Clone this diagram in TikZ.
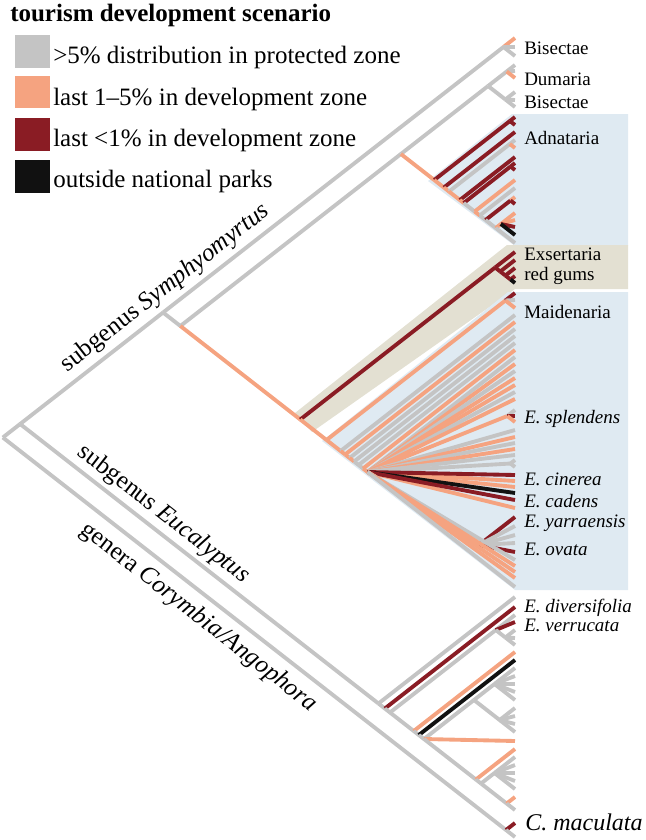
\documentclass[tikz,border=0pt]{standalone}
\usepackage{fontspec}
\setmainfont{Liberation Serif}
\definecolor{cg}{HTML}{C4C4C4}
\definecolor{co}{HTML}{F5A380}
\definecolor{cr}{HTML}{8A1C24}
\definecolor{ck}{HTML}{111111}
\definecolor{bgblue}{HTML}{DFEAF2}
\definecolor{bgbeige}{HTML}{E3E0D2}
\newcommand\mkclade[3]{\coordinate (#1) at ({515-((#3)-(#2))/1.56},{((#2)+(#3))/2});}
\newcommand\edg[3]{\draw[#1] (#2) -- (#3);}
\begin{document}
\begin{tikzpicture}[x=0.75pt,y=-0.75pt,
  eg/.style={draw=cg,line width=2.9pt},
  eo/.style={draw=co,line width=2.9pt},
  er/.style={draw=cr,line width=2.9pt},
  ek/.style={draw=ck,line width=2.9pt},
  tiplab/.style={anchor=base west,inner sep=0pt,font=\fontsize{14.25}{17}\selectfont},
  leglab/.style={anchor=base west,inner sep=0pt,font=\fontsize{18.75}{22}\selectfont},
  cladelab/.style={anchor=base,inner sep=0pt,font=\fontsize{18.75}{22}\selectfont}]
\useasboundingbox (0,0) rectangle (646,840);
% backgrounds
\fill[bgblue] (428,181) -- (512,114) -- (628,114) -- (628,246) -- (515,246) -- cycle;
\fill[bgbeige] (295,413) -- (507,245) -- (628,245) -- (628,289) -- (515,289) -- (312,432) -- cycle;
\fill[bgblue] (322,441) -- (508,292) -- (628,292) -- (628,590) -- (515,590) -- cycle;
% tips
\foreach \y in {38,47,56,65,71,78,92,100,107,117,125,132,140,148,157,163,170,180,188,197,204,213,220,227,235,243,252,260,268,276,283,293,300,308,315,322,329,336,343,350,357,364,371,378,385,392,399,410,416,422,430,437,443,449,455,460,467,475,481,487,493,500,508,517,526,535,543,552,560,566,572,578,587,597,607,615,622,630,638,645,652,660,668,676,684,692,700,708,716,724,732,741,749,757,765,773,781,789,797,810,823,837}
  {\coordinate (t\y) at (515,\y);}
% clades
\mkclade{R}{38}{837}
\mkclade{Eu}{38}{810}
\mkclade{C}{823}{837}
\mkclade{S}{38}{587}
\mkclade{B1}{38}{56}
\mkclade{S2}{65}{587}
\mkclade{D}{65}{243}
\mkclade{DB}{65}{107}
\mkclade{Du}{65}{78}
\mkclade{B2}{92}{107}
\mkclade{A0}{117}{243}
\mkclade{c1}{117}{125}
\mkclade{A1}{132}{243}
\mkclade{A2}{140}{243}
\mkclade{c2}{140}{148}
\mkclade{A3}{157}{243}
\mkclade{A4}{163}{243}
\mkclade{c3}{163}{170}
\mkclade{A5}{180}{243}
\mkclade{A6}{188}{243}
\mkclade{A7}{197}{243}
\mkclade{c4}{197}{204}
\mkclade{A8}{213}{243}
\mkclade{c5}{213}{235}
\mkclade{EM}{252}{587}
\mkclade{X}{252}{283}
\mkclade{X1}{260}{283}
\mkclade{X2}{268}{283}
\mkclade{X3}{276}{283}
\mkclade{M}{293}{587}
\mkclade{m0}{293}{308}
\mkclade{M1}{315}{587}
\mkclade{M2}{322}{587}
\mkclade{M3}{329}{587}
\mkclade{M4}{336}{587}
\mkclade{M5}{343}{587}
\mkclade{M6}{350}{587}
\mkclade{F}{357}{587}
\mkclade{SP}{410}{422}
\mkclade{G}{460}{467}
\coordinate (Y) at (479,545);
\mkclade{E0}{597}{810}
\mkclade{E1}{607}{810}
\mkclade{E2}{615}{810}
\mkclade{V}{615}{645}
\mkclade{V2}{630}{645}
\mkclade{E3}{652}{810}
\mkclade{E4}{660}{810}
\mkclade{E5}{668}{810}
\mkclade{G1}{668}{732}
\mkclade{G1a}{668}{700}
\mkclade{G1b}{708}{732}
\mkclade{L}{749}{810}
\mkclade{L2}{757}{810}
\mkclade{G2}{757}{789}
\mkclade{L3}{797}{810}
% backbone
\edg{eg}{R}{Eu}\edg{eg}{R}{C}\edg{er}{C}{t823}\edg{eg}{C}{t837}
\edg{eg}{Eu}{S}\edg{eg}{Eu}{E0}
\edg{eg}{S}{B1}\edg{eo}{B1}{t38}\edg{eg}{B1}{t47}\edg{eg}{B1}{t56}
\edg{eg}{S}{S2}\edg{eg}{S2}{D}\edg{eo}{S2}{EM}
\edg{eg}{D}{DB}\edg{eg}{DB}{Du}\edg{eg}{Du}{t65}\edg{eg}{Du}{t71}\edg{eo}{Du}{t78}
\edg{eg}{DB}{B2}\edg{eg}{B2}{t92}\edg{eg}{B2}{t100}\edg{eg}{B2}{t107}
% Adnataria
\edg{eo}{D}{A0}
\edg{er}{A0}{c1}\edg{er}{c1}{t117}\edg{er}{c1}{t125}
\edg{eo}{A0}{A1}\edg{er}{A1}{t132}
\edg{eo}{A1}{A2}\edg{eg}{A2}{c2}\edg{eg}{c2}{t140}\edg{eo}{c2}{t148}
\edg{eo}{A2}{A3}\edg{er}{A3}{t157}
\edg{eo}{A3}{A4}\edg{er}{A4}{c3}\edg{er}{c3}{t163}\edg{er}{c3}{t170}
\edg{eg}{A4}{A5}\edg{eo}{A5}{t180}
\edg{eo}{A5}{A6}\edg{eg}{A6}{t188}
\edg{eg}{A6}{A7}\edg{er}{A7}{c4}\edg{eo}{c4}{t197}\edg{er}{c4}{t204}
\edg{eg}{A7}{A8}\edg{eo}{A8}{c5}\edg{eo}{c5}{t213}\edg{eo}{c5}{t220}\edg{er}{c5}{t227}\edg{ek}{c5}{t235}
\edg{eg}{A8}{t243}
% Exsertaria
\edg{er}{EM}{X}\edg{er}{X}{t252}\edg{er}{X}{X1}\edg{er}{X1}{t260}\edg{er}{X1}{X2}\edg{er}{X2}{t268}\edg{er}{X2}{X3}\edg{er}{X3}{t276}\edg{ek}{X3}{t283}
% Maidenaria
\edg{eo}{EM}{M}
\edg{eo}{M}{m0}\edg{er}{m0}{t293}\edg{eg}{m0}{t300}\edg{eo}{m0}{t308}
\edg{eo}{M}{M1}\edg{eg}{M1}{t315}
\edg{eo}{M1}{M2}\edg{eo}{M2}{t322}
\edg{eo}{M2}{M3}\edg{eg}{M3}{t329}
\edg{eo}{M3}{M4}\edg{eg}{M4}{t336}
\edg{eg}{M4}{M5}\edg{eg}{M5}{t343}
\edg{eg}{M5}{M6}\edg{eo}{M6}{t350}
\edg{eo}{M6}{F}
\edg{eg}{F}{t357}\edg{eo}{F}{t364}\edg{eg}{F}{t371}\edg{eo}{F}{t378}\edg{eo}{F}{t385}\edg{eg}{F}{t392}\edg{eo}{F}{t399}
\edg{eo}{F}{SP}\edg{eg}{SP}{t410}\edg{er}{SP}{t416}\edg{eo}{SP}{t422}
\edg{eg}{F}{t430}\edg{eo}{F}{t437}\edg{eg}{F}{t443}\edg{eo}{F}{t449}\edg{eg}{F}{t455}
\edg{eg}{F}{G}\edg{eg}{G}{t460}\edg{eg}{G}{t467}
\edg{eo}{F}{t481}\edg{eo}{F}{t487}\edg{eo}{F}{t508}
\edg{er}{F}{t475}\edg{ek}{F}{t493}\edg{er}{F}{t500}
\edg{eo}{F}{Y}\edg{er}{Y}{t517}\edg{eg}{Y}{t526}\edg{eg}{Y}{t535}\edg{eg}{Y}{t543}\edg{er}{Y}{t552}
\edg{eg}{F}{t560}\edg{eo}{F}{t566}\edg{eo}{F}{t572}\edg{eo}{F}{t578}\edg{eg}{F}{t587}
% subgenus Eucalyptus
\edg{eg}{E0}{t597}
\edg{eg}{E0}{E1}\edg{er}{E1}{t607}
\edg{eg}{E1}{E2}\edg{eg}{E2}{V}\edg{eg}{V}{t615}\edg{er}{V}{t622}\edg{eg}{V}{V2}\edg{eg}{V2}{t630}\edg{eg}{V2}{t638}\edg{eg}{V2}{t645}
\edg{eg}{E2}{E3}\edg{eo}{E3}{t652}
\edg{eg}{E3}{E4}\edg{ek}{E4}{t660}
\edg{eg}{E4}{E5}
\edg{eg}{E5}{G1}\edg{eg}{G1}{G1a}\edg{eg}{G1}{G1b}
\edg{eg}{G1a}{t668}\edg{eg}{G1a}{t676}\edg{eg}{G1a}{t684}\edg{eg}{G1a}{t692}\edg{eg}{G1a}{t700}
\edg{eg}{G1b}{t708}\edg{eg}{G1b}{t716}\edg{eg}{G1b}{t724}\edg{eg}{G1b}{t732}
\edg{eo}{E5}{t741}
\edg{eg}{E5}{L}\edg{eo}{L}{t749}\edg{eg}{L}{L2}
\edg{eg}{L2}{G2}\edg{eg}{G2}{t757}\edg{eg}{G2}{t765}\edg{eg}{G2}{t773}\edg{eg}{G2}{t781}\edg{eg}{G2}{t789}
\edg{eg}{L2}{L3}\edg{eo}{L3}{t797}\edg{eg}{L3}{t810}
% legend
\node[anchor=base west,inner sep=0pt,font=\bfseries\fontsize{18.75}{22}\selectfont] (title) at (10,21) {tourism development scenario};
\fill[cg] (15,35) rectangle (50,68);
\fill[co] (15,76) rectangle (50,108);
\fill[cr] (15,118) rectangle (50,151);
\fill[ck] (15,160) rectangle (50,193);
\node[leglab] (lg1) at (53,63) {{>}5\% distribution in protected zone};
\node[leglab] (lg2) at (53,105) {last 1–5\% in development zone};
\node[leglab] (lg3) at (53,146) {last {<}1\% in development zone};
\node[leglab] (lg4) at (53,187) {outside national parks};
% clade labels
\node[cladelab,rotate=37.9] (lSym) at (169,293) {subgenus \textit{Symphyomyrtus}};
\node[cladelab,rotate=-37.9] (lEuc) at (160,519) {subgenus \textit{Eucalyptus}};
\node[cladelab,rotate=-37.9] (lCor) at (195,622) {genera \textit{Corymbia/Angophora}};
% tip labels
\node[tiplab] (n1) at (524,54) {Bisectae};
\node[tiplab] (n2) at (524,85) {Dumaria};
\node[tiplab] (n3) at (524,108) {Bisectae};
\node[tiplab] (n4) at (524,144) {Adnataria};
\node[tiplab] (n5) at (524,260) {Exsertaria};
\node[tiplab] (n6) at (524,280) {red gums};
\node[tiplab] (n7) at (524,318) {Maidenaria};
\node[tiplab] (n8) at (524,423) {\textit{E. splendens}};
\node[tiplab] (n9) at (524,485) {\textit{E. cinerea}};
\node[tiplab] (n10) at (524,507) {\textit{E. cadens}};
\node[tiplab] (n11) at (524,527) {\textit{E. yarraensis}};
\node[tiplab] (n12) at (524,555) {\textit{E. ovata}};
\node[tiplab] (n13) at (524,612) {\textit{E. diversifolia}};
\node[tiplab] (n14) at (524,631) {\textit{E. verrucata}};
\node[anchor=base west,inner sep=0pt,font=\fontsize{18}{21}\selectfont] (n15) at (525,830) {\textit{C. maculata}};
\end{tikzpicture}
\end{document}
